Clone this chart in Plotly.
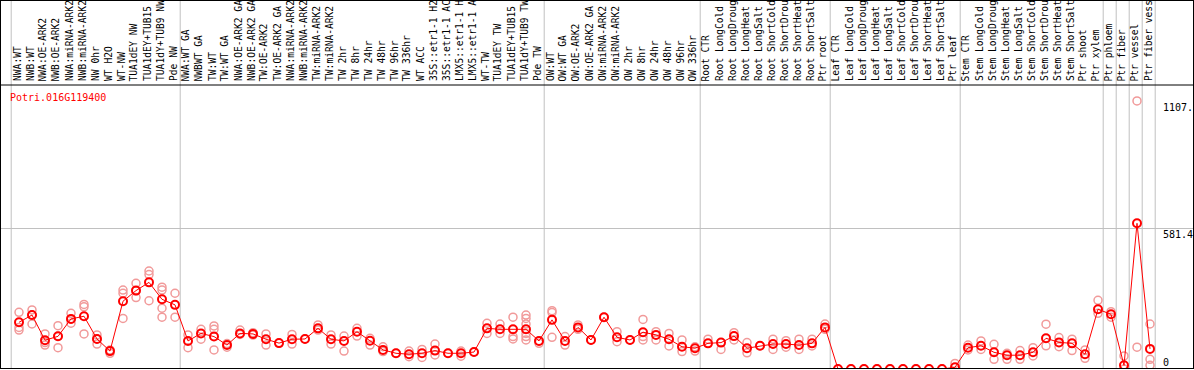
import plotly.graph_objects as go

gene = "Potri.016G119400"

labels_nw = ["NWA:WT", "NWB:WT", "NWA:OE-ARK2", "NWB:OE-ARK2", "NWA:miRNA-ARK2", "NWB:miRNA-ARK2",
             "NW 0hr", "WT H2O", "WT-NW", "TUA1dEY NW", "TUA1dEY+TUB15 NW", "TUA1dY+TUB9 NW", "Pde NW"]
labels_tw = ["NWA:WT GA", "NWBWT GA", "TW:WT", "TW:WT GA", "NWA:OE-ARK2 GA", "NWB:OE-ARK2 GA",
             "TW:OE-ARK2", "TW:OE-ARK2 GA", "NWA:miRNA-ARK2 GA", "NWB:miRNA-ARK2 GA", "TW:miRNA-ARK2",
             "TW:miRNA-ARK2 GA", "TW 2hr", "TW 8hr", "TW 24hr", "TW 48hr", "TW 96hr", "TW 336hr", "WT ACC",
             "35S::etr1-1 H2O", "35S::etr1-1 ACC", "LMX5::etr1-1 H2O", "LMX5::etr1-1 ACC", "WT-TW",
             "TUA1dEY TW", "TUA1dEY+TUB15 TW", "TUA1dY+TUB9 TW", "Pde TW"]
labels_ow = ["OW:WT", "OW:WT GA", "OW:OE-ARK2", "OW:OE-ARK2 GA", "OW:miRNA-ARK2", "OW:miRNA-ARK2 GA",
             "OW 2hr", "OW 8hr", "OW 24hr", "OW 48hr", "OW 96hr", "OW 336hr"]
labels_root = ["Root CTR", "Root LongCold", "Root LongDrought", "Root LongHeat", "Root LongSalt",
               "Root ShortCold", "Root ShortDrought", "Root ShortHeat", "Root ShortSalt", "Ptr root"]
labels_leaf = ["Leaf CTR", "Leaf LongCold", "Leaf LongDrought", "Leaf LongHeat", "Leaf LongSalt",
               "Leaf ShortCold", "Leaf ShortDrought", "Leaf ShortHeat", "Leaf ShortSalt", "Ptr leaf"]
labels_stem = ["Stem CTR", "Stem LongCold", "Stem LongDrought", "Stem LongHeat", "Stem LongSalt",
               "Stem ShortCold", "Stem ShortDrought", "Stem ShortHeat", "Stem ShortSalt", "Ptr shoot",
               "Ptr xylem"]
labels_tissue = ["Ptr phloem", "Ptr fiber", "Ptr vessel", "Ptr fiber vessel"]

means_nw = [193, 223, 119, 135, 207, 218, 124, 74, 280, 324, 358, 288, 265]
means_tw = [116, 147, 134, 99, 147, 145, 123, 107, 123, 124, 168, 123, 116, 154, 117, 79, 65, 61,
            65, 76, 65, 65, 70, 168, 164, 164, 164, 116]
means_ow = [203, 116, 172, 120, 214, 131, 120, 152, 141, 123, 92, 86]
means_root = [106, 109, 136, 86, 96, 103, 103, 99, 106, 172]
means_leaf = [0, 0, 0, 0, 0, 0, 0, 0, 0, 7]
means_stem = [88, 96, 69, 57, 57, 69, 127, 110, 106, 61, 247]
means_tissue = [226, 15, 602, 83]

reps_nw = [[234, 172, 161], [244, 186, 223], [145, 109, 99], [179, 88, 135], [230, 189, 206],
           [267, 257, 145], [141, 103, 124], [79, 65], [326, 313, 209], [354, 295, 323],
           [405, 390, 282], [338, 326, 251, 214], [313, 214]]
reps_tw = [[141, 88], [164, 123], [178, 164, 79], [90, 105], [161, 143], [150, 140], [145, 99],
           [107], [143, 103], [124], [182, 161], [141, 103], [136, 74], [168, 136], [127, 99],
           [92, 72], [65], [74, 51], [81, 48], [103, 58], [65], [74, 53], [70], [189, 147],
           [186, 147], [214, 134, 124], [223, 209, 186, 147, 134, 120], [106, 116]]
reps_ow = [[241, 233, 131], [134, 99], [182, 164], [120], [214], [154, 113], [120],
           [205, 134, 120], [154, 120], [147, 95], [120, 72], [92, 74]]
reps_root = [[123], [81], [150, 120], [109, 67], [96], [123, 81], [117, 90], [123, 81],
             [123, 95], [186, 164]]
reps_leaf = [[0], [0], [0], [0], [0], [0], [0], [0], [0], [23]]
reps_stem = [[99, 79], [116, 81], [102, 40], [65, 40], [76, 40], [88, 54], [185, 96], [130, 92],
             [123, 76], [79, 44], [284, 230]]
reps_tissue = [[237, 214], [54, 0], [1107.6, 90], [186, 40, 15]]

y_tick_values = [0, 581.4, 1107.6]
y_tick_text = ["0", "581.4", "1107."]

labels = labels_nw + labels_tw + labels_ow + labels_root + labels_leaf + labels_stem + labels_tissue
means = means_nw + means_tw + means_ow + means_root + means_leaf + means_stem + means_tissue
reps = reps_nw + reps_tw + reps_ow + reps_root + reps_leaf + reps_stem + reps_tissue
group_sizes = [len(labels_nw), len(labels_tw), len(labels_ow), len(labels_root), len(labels_leaf),
               len(labels_stem), 1, 1, 1, 1]

# ---- geometry ----
W, H = 1194, 370
TOP, BOTTOM = 85, 369
PLOT_H = BOTTOM - TOP
STEP = 13.0
FIRST = 19.0
MAXCH = 14
xmin = -FIRST / STEP
xmax = xmin + W / STEP
px_per_val = (BOTTOM - 228.3) / 581.4
ymax = PLOT_H / px_per_val

xs = list(range(len(labels)))
rx, ry = [], []
for i, r in enumerate(reps):
    for v in r:
        rx.append(i)
        ry.append(v)

fig = go.Figure()
fig.add_trace(go.Scatter(x=rx, y=ry, mode="markers", hoverinfo="skip", cliponaxis=True,
                         marker=dict(symbol="circle-open", size=8, color="#f19a9a",
                                     line=dict(width=1.5, color="#f19a9a"))))
fig.add_trace(go.Scatter(x=xs, y=means, mode="lines+markers", cliponaxis=True,
                         line=dict(color="#ff0000", width=1),
                         marker=dict(symbol="circle-open", size=8, color="#ff0000",
                                     line=dict(width=2, color="#ff0000"))))

def py(p):
    return (BOTTOM - p) / PLOT_H

shapes = []
b = 0
bounds = [0]
for s in group_sizes:
    b += s
    bounds.append(b)
for bd in bounds:
    shapes.append(dict(type="line", xref="x", yref="paper", x0=bd - 0.6, x1=bd - 0.6,
                       y0=0, y1=py(0), line=dict(color="#c0c0c0", width=1), layer="below"))
frame = dict(color="#000000", width=1)
shapes.append(dict(type="line", xref="paper", yref="paper", x0=0, x1=1, y0=py(0.5), y1=py(0.5), line=frame))
shapes.append(dict(type="line", xref="paper", yref="paper", x0=0, x1=1, y0=py(TOP), y1=py(TOP), line=frame))
shapes.append(dict(type="line", xref="paper", yref="paper", x0=0, x1=1, y0=py(BOTTOM - 0.5), y1=py(BOTTOM - 0.5), line=frame))
shapes.append(dict(type="line", xref="paper", yref="paper", x0=0.5 / W, x1=0.5 / W, y0=py(BOTTOM), y1=py(0), line=frame))
shapes.append(dict(type="line", xref="paper", yref="paper", x0=1193.5 / W, x1=1193.5 / W, y0=py(BOTTOM), y1=py(0), line=frame))

FONT = "DejaVu Sans Mono"
annotations = []
for i, lab in enumerate(labels):
    annotations.append(dict(x=i - 0.12, y=py(82), xref="x", yref="paper", text=lab[:MAXCH].rstrip(),
                            showarrow=False, textangle=-90, xanchor="center", yanchor="bottom",
                            borderpad=0, font=dict(family=FONT, size=9.6, color="#000000")))
annotations.append(dict(x=8 / W, y=py(97), xref="paper", yref="paper", text=gene, showarrow=False,
                        xanchor="left", yanchor="middle", font=dict(family=FONT, size=10, color="#ff0000")))
for v, t in zip(y_tick_values, y_tick_text):
    annotations.append(dict(x=1162 / W, y=v, xref="paper", yref="y", text=t, showarrow=False,
                            xanchor="left", yanchor="bottom" if v == 0 else "top", borderpad=0,
                            font=dict(family=FONT, size=10, color="#000000")))

fig.update_layout(
    width=W, height=H, margin=dict(l=0, r=0, t=TOP, b=H - BOTTOM),
    paper_bgcolor="white", plot_bgcolor="white", showlegend=False,
    xaxis=dict(range=[xmin, xmax], showgrid=False, zeroline=False, showticklabels=False,
               showline=False, fixedrange=True),
    yaxis=dict(range=[0, ymax], tickvals=[581.4], showgrid=True, gridcolor="#c0c0c0", gridwidth=1,
               zeroline=False, showticklabels=False, showline=False, fixedrange=True),
    shapes=shapes, annotations=annotations,
)

fig.write_html("out.html", config={"displayModeBar": False},
               post_script="document.body.style.margin='0';document.body.style.overflow='hidden';")
